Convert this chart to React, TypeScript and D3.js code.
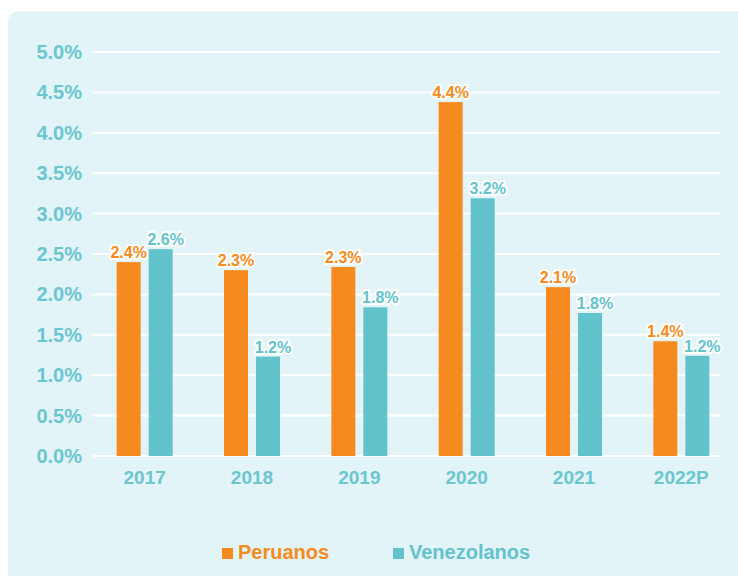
import React, { useRef, useEffect } from 'react';
import * as d3 from 'd3';

// data
const years = ['2017', '2018', '2019', '2020', '2021', '2022P'];
const peruanos = [2.4, 2.3, 2.34, 4.38, 2.09, 1.42];
const venezolanos = [2.56, 1.23, 1.84, 3.19, 1.77, 1.24];
const yTicks = [0, 0.5, 1, 1.5, 2, 2.5, 3, 3.5, 4, 4.5, 5];
const seriesNames = ['Peruanos', 'Venezolanos'];

const ORANGE = '#f58b20';
const TEAL = '#62c3cc';
const BG = '#e3f4f8';

const App = () => {
    const svgRef = useRef(null);

    useEffect(() => {
        const width = 738;
        const height = 576;
        const font = '"Liberation Sans", Arial, sans-serif';

        const root = d3.select(svgRef.current);
        root.selectAll('*').remove();

        const svg = root.attr('width', width).attr('height', height);

        // panel background
        svg.append('rect')
            .attr('x', 8)
            .attr('y', 11)
            .attr('width', width + 20)
            .attr('height', height + 20)
            .attr('rx', 11)
            .attr('fill', BG);

        const yScale = d3.scaleLinear().domain([0, 5]).range([456, 52]);
        const xScale = d3.scaleBand().domain(years).range([91, 735]);
        const inner = d3.scaleBand().domain(seriesNames).range([-28, 28]).paddingInner(0.25);

        // grid lines
        svg.selectAll('.grid-line')
            .data(yTicks)
            .enter()
            .append('line')
            .attr('class', 'grid-line')
            .attr('x1', 92)
            .attr('x2', 720)
            .attr('y1', d => yScale(d))
            .attr('y2', d => yScale(d))
            .attr('stroke', '#ffffff')
            .attr('stroke-width', 2);

        // y labels
        svg.selectAll('.y-label')
            .data(yTicks)
            .enter()
            .append('text')
            .attr('class', 'y-label')
            .attr('x', 82)
            .attr('y', d => yScale(d) + 7)
            .attr('text-anchor', 'end')
            .style('font-family', font)
            .style('font-weight', 700)
            .style('font-size', '20px')
            .style('fill', '#6ac6cf')
            .text(d => d.toFixed(1) + '%');

        // bars
        const series = [
            { name: seriesNames[0], values: peruanos, color: ORANGE, dx: 0 },
            { name: seriesNames[1], values: venezolanos, color: TEAL, dx: 5 }
        ];

        series.forEach(s => {
            const g = svg.append('g');
            g.selectAll('rect')
                .data(s.values)
                .enter()
                .append('rect')
                .attr('x', (d, i) => xScale(years[i]) + xScale.bandwidth() / 2 + inner(s.name))
                .attr('y', d => yScale(d))
                .attr('width', inner.bandwidth())
                .attr('height', d => yScale(0) - yScale(d))
                .attr('fill', s.color);

            g.selectAll('text')
                .data(s.values)
                .enter()
                .append('text')
                .attr('x', (d, i) => xScale(years[i]) + xScale.bandwidth() / 2 + inner(s.name) + inner.bandwidth() / 2 + s.dx)
                .attr('y', d => yScale(d) - 4)
                .attr('text-anchor', 'middle')
                .style('font-family', font)
                .style('font-weight', 700)
                .style('font-size', '16px')
                .style('fill', s.color)
                .style('stroke', '#ffffff')
                .style('stroke-width', 4)
                .style('stroke-linejoin', 'round')
                .style('paint-order', 'stroke')
                .text(d => d.toFixed(1) + '%');
        });

        // x labels
        svg.selectAll('.x-label')
            .data(years)
            .enter()
            .append('text')
            .attr('class', 'x-label')
            .attr('x', d => xScale(d) + xScale.bandwidth() / 2)
            .attr('y', 484)
            .attr('text-anchor', 'middle')
            .style('font-family', font)
            .style('font-weight', 700)
            .style('font-size', '19px')
            .style('fill', '#6ac6cf')
            .text(d => d);

        // legend
        const legendX = [222, 393];
        series.forEach((s, i) => {
            svg.append('rect')
                .attr('x', legendX[i])
                .attr('y', 548)
                .attr('width', 11)
                .attr('height', 11)
                .attr('fill', s.color);
            svg.append('text')
                .attr('x', legendX[i] + 16)
                .attr('y', 559)
                .style('font-family', font)
                .style('font-weight', 700)
                .style('font-size', '20px')
                .style('fill', s.color)
                .text(s.name);
        });
    }, []);

    return (
        <svg ref={svgRef} style={{ position: 'absolute', left: 0, top: 0, display: 'block' }}></svg>
    );
};

export default App;
